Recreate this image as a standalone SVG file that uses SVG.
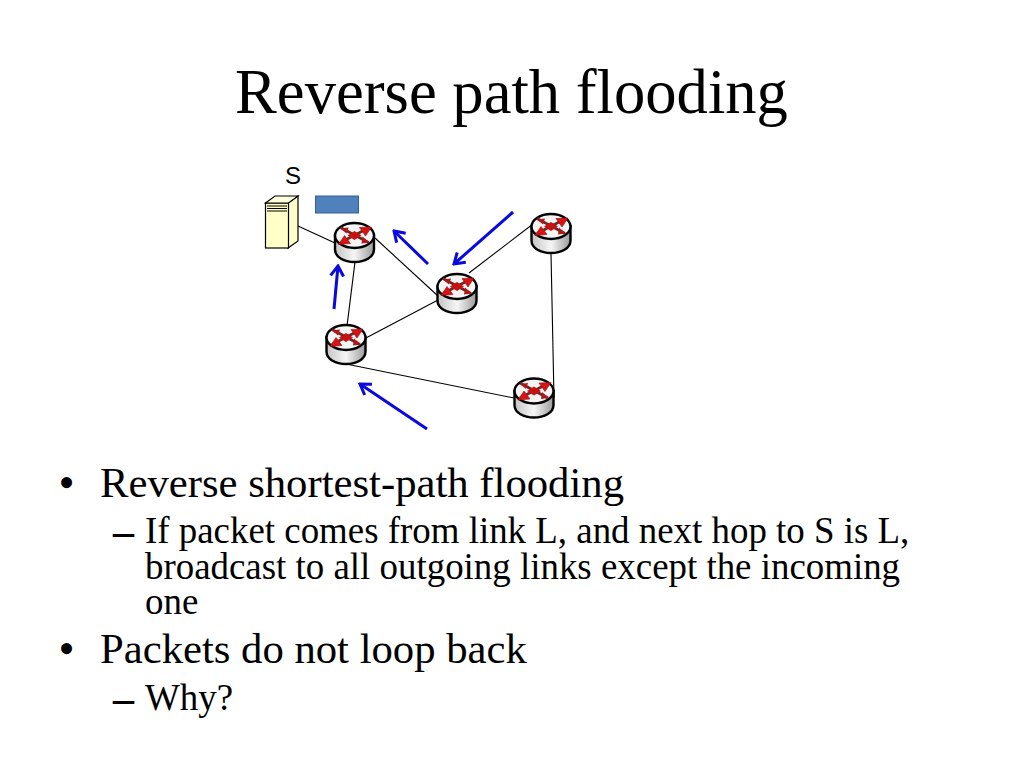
<svg xmlns="http://www.w3.org/2000/svg" width="1024" height="768" viewBox="0 0 1024 768">
<style>
.t{font-family:"Liberation Serif","Times New Roman",serif;fill:#000}
.h{font-size:42.700px}
.s{font-size:36.900px}
.bu{font-size:46px}
.da{font-size:42px;font-weight:bold}
.l{stroke:#000;stroke-width:1.100;fill:none}
.b{stroke:#0808e0;stroke-width:3;fill:none;marker-end:url(#ah)}
</style>
<defs>
<marker id="ah" viewBox="0 0 16 16" refX="14" refY="8" markerWidth="16" markerHeight="16" markerUnits="userSpaceOnUse" orient="auto"><path d="M4 1.500 L14 8 L4 14.500" fill="none" stroke="#0808e0" stroke-width="3"/></marker>
<linearGradient id="body" x1="0" x2="1" y1="0" y2="0"><stop offset="0" stop-color="#c4c4c4"/><stop offset=".5" stop-color="#f6f6f6"/><stop offset="1" stop-color="#9a9a9a"/></linearGradient>
<g id="rt">
<path d="M-19.500 -7 V7 C-19.500 15 -10 19.500 0 19.500 C10 19.500 19.500 15 19.500 7 V-7 Z" fill="url(#body)" stroke="#000" stroke-width="2.400"/>
<ellipse cx="0" cy="-7" rx="19.500" ry="12.500" fill="#f5f5f5" stroke="#000" stroke-width="2.400"/>
<path d="M-14 -15 L14 0 M13 -14 L-14 0" fill="none" stroke="#6e2626" stroke-width="2.600"/>
<path d="M-7 -7 L0 -11.500 L7 -7 L0 -2.500 Z" fill="#c81010"/>
<path d="M17 -15.500 L5 -15 L11 -6.500 Z M-16 2 L-4 1 L-10 -7 Z" fill="#dc1212" stroke="#8a1010" stroke-width=".6"/>
<path d="M-14 -14 L-6 -15 L-8 -9 Z M15 0 L7 1 L8 -6 Z" fill="#b01818"/>
</g>
</defs>
<rect width="1024" height="768" fill="#fff"/>
<text id="title" class="t" x="511.500" y="113" font-size="62.600" text-anchor="middle">Reverse path flooding</text>
<g id="connectors">
<path class="l" d="M298 226 L335 243"/>
<path class="l" d="M375 238 L438 296"/>
<path class="l" d="M355 262 L347 326"/>
<path class="l" d="M469 273 L533 224"/>
<path class="l" d="M438 300 L364 339"/>
<path class="l" d="M551 253 L554 398"/>
<path class="l" d="M346 364 L514 398"/>
<path class="b" d="M428 264 L394 231"/>
<path class="b" d="M513 212 L454 264"/>
<path class="b" d="M334 309 L338 266"/>
<path class="b" d="M427 429 L360 384"/>
</g>
<g id="server-s">
<path d="M288 248 V203 L298 196 V241 Z" fill="#ffffc8" stroke="#000" stroke-width="1.200"/>
<rect x="265.500" y="203" width="23" height="45" fill="#ffffc8" stroke="#000" stroke-width="1.200"/>
<path d="M265.500 203 L275 196 H298 L288.500 203 Z" fill="#ffffe0" stroke="#000" stroke-width="1.200"/>
<path d="M267 206 H287 M267 208.500 H287 M267 211 H287" stroke="#000" stroke-width="1.200"/>
<text x="293" y="184" font-family="'Liberation Sans',Arial,sans-serif" font-size="24" text-anchor="middle">S</text>
</g>
<g id="packet"><rect x="315.500" y="196" width="43" height="17" fill="#4f81bd" stroke="#3a5f8a" stroke-width="1"/></g>
<g id="router-a"><use href="#rt" x="354.500" y="242.500"/></g>
<g id="router-b"><use href="#rt" x="551" y="233.500"/></g>
<g id="router-c"><use href="#rt" x="457" y="293.500"/></g>
<g id="router-d"><use href="#rt" x="346" y="344.500"/></g>
<g id="router-e"><use href="#rt" x="534" y="398"/></g>
<g id="bullets">
<text class="t bu" x="58.500" y="498">•</text>
<text class="t h" x="100" y="497">Reverse shortest-path flooding</text>
<text class="t da" x="113" y="545">–</text>
<text class="t s" x="145" y="543">If packet comes from link L, and next hop to S is L,</text>
<text class="t s" x="145" y="579">broadcast to all outgoing links except the incoming</text>
<text class="t s" x="145" y="614">one</text>
<text class="t bu" x="58.500" y="664">•</text>
<text class="t h" x="100" y="663">Packets do not loop back</text>
<text class="t da" x="113" y="712">–</text>
<text class="t s" x="145" y="710">Why?</text>
</g>
</svg>
